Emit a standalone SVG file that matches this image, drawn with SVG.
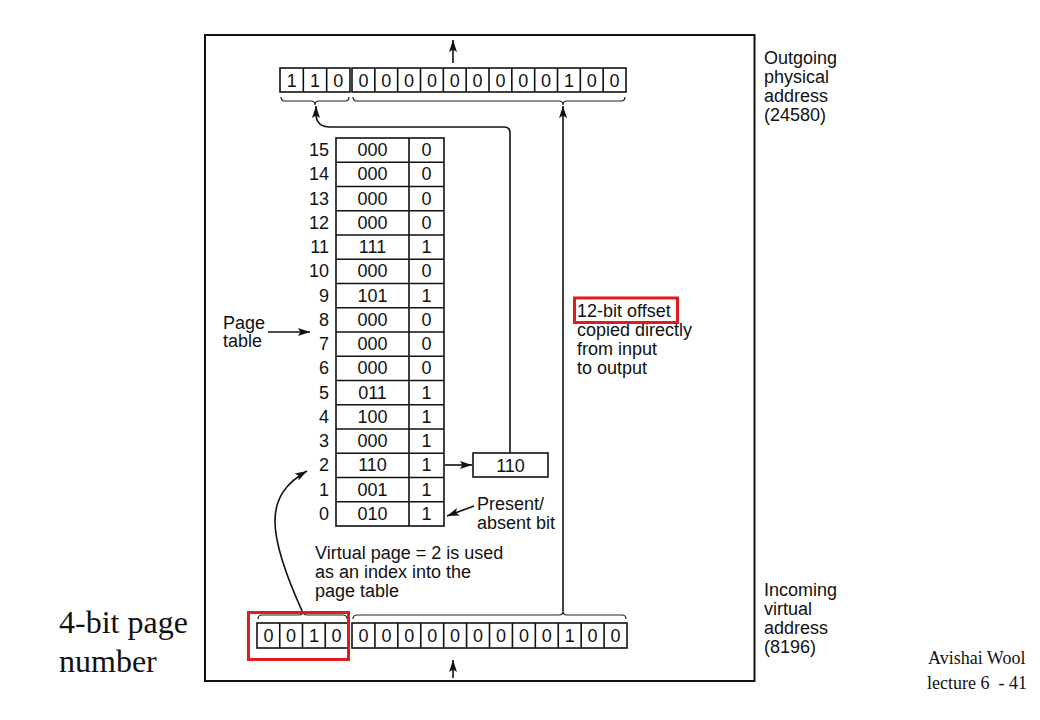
<svg xmlns="http://www.w3.org/2000/svg" width="1040" height="720" viewBox="0 0 1040 720">
<style>
.s{font-family:"Liberation Sans",Arial,sans-serif;font-size:18px;fill:#111}
.c{text-anchor:middle}
.r{text-anchor:end}
.t{font-family:"Liberation Serif","Times New Roman",serif;fill:#111}
.box{fill:#fff;stroke:#111;stroke-width:1.6}
.ln{fill:none;stroke:#111;stroke-width:1.6}
.br{fill:none;stroke:#222;stroke-width:1.2}
.red{fill:none;stroke:#e01b1b;stroke-width:3}
</style>
<defs>
<marker id="ah" viewBox="0 0 12 8" refX="12" refY="4" markerWidth="12" markerHeight="8" markerUnits="userSpaceOnUse" orient="auto">
<path d="M0,0 L12,4 L0,8 L2.5,4 z" fill="#111"/>
</marker>
</defs>
<rect width="1040" height="720" fill="#fff"/>
<rect x="205" y="35" width="549.5" height="646" fill="none" stroke="#111" stroke-width="2"/>

<g id="outgoing-register">
<rect class="box" x="280" y="68" width="70" height="24"/>
<path class="ln" d="M303.33,68V92M326.67,68V92"/>
<rect class="box" x="352" y="68" width="274" height="24"/>
<path class="ln" d="M374.83,68V92M397.67,68V92M420.5,68V92M443.33,68V92M466.17,68V92M489,68V92M511.83,68V92M534.67,68V92M557.5,68V92M580.33,68V92M603.17,68V92"/>
<g class="s c">
<text x="291.7" y="86.5">1</text><text x="315" y="86.5">1</text><text x="338.3" y="86.5">0</text>
<text x="363.4" y="86.5">0</text><text x="386.25" y="86.5">0</text><text x="409.1" y="86.5">0</text><text x="431.9" y="86.5">0</text><text x="454.75" y="86.5">0</text><text x="477.6" y="86.5">0</text><text x="500.4" y="86.5">0</text><text x="523.25" y="86.5">0</text><text x="546.1" y="86.5">0</text><text x="568.9" y="86.5">1</text><text x="591.75" y="86.5">0</text><text x="614.6" y="86.5">0</text>
</g>
<path class="br" d="M281,97q0,4 4,4H311q4,0 4,4q0,-4 4,-4H345q4,0 4,-4"/>
<path class="br" d="M353,97q0,4 4,4H559q4,0 4,4q0,-4 4,-4H621q4,0 4,-4"/>
</g>

<g id="incoming-register">
<rect class="box" x="257" y="623" width="91" height="25"/>
<path class="ln" d="M279.75,623V648M302.5,623V648M325.25,623V648"/>
<rect class="box" x="352" y="623" width="275" height="25"/>
<path class="ln" d="M374.92,623V648M397.83,623V648M420.75,623V648M443.67,623V648M466.58,623V648M489.5,623V648M512.42,623V648M535.33,623V648M558.25,623V648M581.17,623V648M604.08,623V648"/>
<g class="s c">
<text x="268.4" y="642">0</text><text x="291.1" y="642">0</text><text x="313.9" y="642">1</text><text x="336.6" y="642">0</text>
<text x="363.5" y="642">0</text><text x="386.4" y="642">0</text><text x="409.3" y="642">0</text><text x="432.2" y="642">0</text><text x="455.1" y="642">0</text><text x="478" y="642">0</text><text x="501" y="642">0</text><text x="523.9" y="642">0</text><text x="546.8" y="642">0</text><text x="569.7" y="642">1</text><text x="592.6" y="642">0</text><text x="615.5" y="642">0</text>
</g>
<path class="br" d="M258,619q0,-4 4,-4H299q4,0 4,-4q0,4 4,4H343q4,0 4,4"/>
<path class="br" d="M353,619q0,-4 4,-4H559q4,0 4,-4q0,4 4,4H622q4,0 4,4"/>
</g>

<g id="page-table">
<rect class="box" x="336" y="138" width="108" height="388"/>
<path class="ln" d="M409,138V526M336,162.25H444M336,186.5H444M336,210.75H444M336,235H444M336,259.25H444M336,283.5H444M336,307.75H444M336,332H444M336,356.25H444M336,380.5H444M336,404.75H444M336,429H444M336,453.25H444M336,477.5H444M336,501.75H444"/>
<g class="s r">
<text x="329" y="156">15</text><text x="329" y="180.25">14</text><text x="329" y="204.5">13</text><text x="329" y="228.75">12</text><text x="329" y="253">11</text><text x="329" y="277.25">10</text><text x="329" y="301.5">9</text><text x="329" y="325.75">8</text><text x="329" y="350">7</text><text x="329" y="374.25">6</text><text x="329" y="398.5">5</text><text x="329" y="422.75">4</text><text x="329" y="447">3</text><text x="329" y="471.25">2</text><text x="329" y="495.5">1</text><text x="329" y="519.75">0</text>
</g>
<g class="s c">
<text x="372.5" y="156">000</text><text x="372.5" y="180.25">000</text><text x="372.5" y="204.5">000</text><text x="372.5" y="228.75">000</text><text x="372.5" y="253">111</text><text x="372.5" y="277.25">000</text><text x="372.5" y="301.5">101</text><text x="372.5" y="325.75">000</text><text x="372.5" y="350">000</text><text x="372.5" y="374.25">000</text><text x="372.5" y="398.5">011</text><text x="372.5" y="422.75">100</text><text x="372.5" y="447">000</text><text x="372.5" y="471.25">110</text><text x="372.5" y="495.5">001</text><text x="372.5" y="519.75">010</text>
<text x="426.5" y="156">0</text><text x="426.5" y="180.25">0</text><text x="426.5" y="204.5">0</text><text x="426.5" y="228.75">0</text><text x="426.5" y="253">1</text><text x="426.5" y="277.25">0</text><text x="426.5" y="301.5">1</text><text x="426.5" y="325.75">0</text><text x="426.5" y="350">0</text><text x="426.5" y="374.25">0</text><text x="426.5" y="398.5">1</text><text x="426.5" y="422.75">1</text><text x="426.5" y="447">1</text><text x="426.5" y="471.25">1</text><text x="426.5" y="495.5">1</text><text x="426.5" y="519.75">1</text>
</g>
</g>

<g id="frame-box">
<rect class="box" x="473" y="453" width="75" height="24"/>
<text class="s c" x="510.5" y="471.5">110</text>
</g>

<g id="connectors">
<path class="ln" d="M453,63V40" marker-end="url(#ah)"/>
<path class="ln" d="M453,678V660" marker-end="url(#ah)"/>
<path class="ln" d="M510,453V133q0,-6 -6,-6H330q-13,0 -14,-12V106" marker-end="url(#ah)"/>
<path class="ln" d="M563,611V106" marker-end="url(#ah)"/>
<path class="ln" d="M445,465H472" marker-end="url(#ah)"/>
<path class="ln" d="M474,506L447,516" marker-end="url(#ah)"/>
<path class="ln" d="M268,332H310" marker-end="url(#ah)"/>
<path class="ln" d="M303,613C265,530 265,495 307,471" marker-end="url(#ah)"/>
</g>

<g id="labels">
<text class="s" x="764" y="64">Outgoing</text>
<text class="s" x="764" y="83">physical</text>
<text class="s" x="764" y="102">address</text>
<text class="s" x="764" y="121">(24580)</text>
<text class="s" x="764" y="596">Incoming</text>
<text class="s" x="764" y="615">virtual</text>
<text class="s" x="764" y="634">address</text>
<text class="s" x="764" y="653">(8196)</text>
<text class="s" x="223" y="328.5">Page</text>
<text class="s" x="223" y="347">table</text>
<text class="s" x="477" y="510">Present/</text>
<text class="s" x="477" y="528.5">absent bit</text>
<text class="s" x="315" y="559">Virtual page = 2 is used</text>
<text class="s" x="315" y="578">as an index into the</text>
<text class="s" x="315" y="597">page table</text>
<text class="s" x="577" y="317">12-bit offset</text>
<text class="s" x="577" y="336">copied directly</text>
<text class="s" x="577" y="355">from input</text>
<text class="s" x="577" y="374">to output</text>
<text class="t" x="59" y="633" font-size="32">4-bit page</text>
<text class="t" x="59" y="672" font-size="32">number</text>
<text class="t" x="928" y="664" font-size="18">Avishai Wool</text>
<text class="t" x="927" y="689" font-size="18" xml:space="preserve">lecture 6  - 41</text>
</g>

<g id="highlights">
<rect class="red" x="574.5" y="298" width="103" height="24.5"/>
<rect class="red" x="248.5" y="612.5" width="100" height="47"/>
</g>
</svg>
